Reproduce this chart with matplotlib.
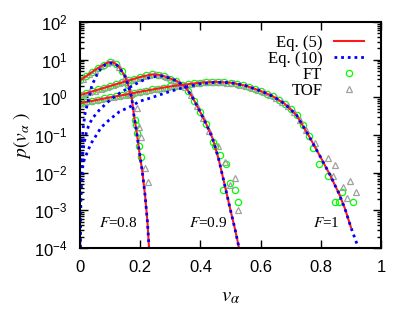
import numpy as np
import matplotlib
matplotlib.use("Agg")
import matplotlib.pyplot as plt

plt.rcParams['font.family'] = ['Liberation Sans', 'DejaVu Sans']
plt.rcParams['mathtext.fontset'] = 'stix'

# ---- data (v, log10 p) ----
# Eq. (5), red solid
v_eq5_08 = [0.0, 0.02, 0.04, 0.06, 0.08, 0.095, 0.11, 0.123, 0.133, 0.15, 0.16, 0.172, 0.179, 0.188, 0.197, 0.207, 0.216, 0.224, 0.229]
lp_eq5_08 = [0.45, 0.56, 0.67, 0.78, 0.87, 0.93, 0.93, 0.86, 0.77, 0.55, 0.33, -0.02, -0.47, -0.91, -1.44, -1.97, -2.59, -3.30, -3.95]
v_eq5_09 = [0.0, 0.05, 0.1, 0.15, 0.2, 0.24, 0.26, 0.28, 0.32, 0.35, 0.37, 0.39, 0.40, 0.42, 0.44, 0.46, 0.48, 0.50, 0.515, 0.527]
lp_eq5_09 = [0.06, 0.18, 0.30, 0.42, 0.54, 0.61, 0.60, 0.56, 0.44, 0.28, 0.05, -0.24, -0.40, -0.72, -1.08, -1.62, -2.30, -3.00, -3.50, -3.95]
v_eq5_10 = [0.0, 0.05, 0.1, 0.15, 0.2, 0.25, 0.3, 0.35, 0.4, 0.45, 0.5, 0.55, 0.6, 0.64, 0.68, 0.72, 0.76, 0.8, 0.83, 0.86, 0.88, 0.9]
lp_eq5_10 = [-0.15, -0.08, 0.0, 0.07, 0.15, 0.22, 0.29, 0.34, 0.39, 0.41, 0.39, 0.31, 0.17, 0.03, -0.17, -0.48, -1.02, -1.60, -2.05, -2.55, -2.95, -3.45]

# Eq. (10), blue dotted
v_eq10_08 = [0.0002, 0.001, 0.003, 0.006, 0.011, 0.017, 0.028, 0.039, 0.05, 0.061, 0.075, 0.089, 0.1, 0.112, 0.123, 0.133, 0.15, 0.16, 0.172, 0.179, 0.188, 0.197, 0.207, 0.216, 0.224, 0.229]
lp_eq10_08 = [-4.0, -2.9, -1.9, -1.25, -0.78, -0.42, -0.07, 0.30, 0.50, 0.68, 0.82, 0.89, 0.91, 0.90, 0.85, 0.76, 0.55, 0.33, -0.02, -0.47, -0.91, -1.44, -1.97, -2.59, -3.30, -3.95]
v_eq10_09 = [0.0003, 0.001, 0.003, 0.007, 0.013, 0.02, 0.028, 0.04, 0.066, 0.1, 0.133, 0.166, 0.2, 0.23, 0.26, 0.28, 0.32, 0.35, 0.37, 0.39, 0.40, 0.42, 0.44, 0.46, 0.48, 0.50, 0.515, 0.527]
lp_eq10_09 = [-4.0, -3.2, -2.3, -1.65, -1.25, -0.97, -0.77, -0.57, -0.32, -0.07, 0.12, 0.27, 0.42, 0.52, 0.57, 0.56, 0.44, 0.28, 0.05, -0.24, -0.40, -0.72, -1.08, -1.62, -2.30, -3.00, -3.50, -3.95]
v_eq10_10 = [0.0005, 0.002, 0.005, 0.009, 0.014, 0.026, 0.037, 0.053, 0.07, 0.097, 0.131, 0.166, 0.2, 0.233, 0.27, 0.3, 0.35, 0.4, 0.45, 0.5, 0.55, 0.6, 0.64, 0.68, 0.72, 0.76, 0.8, 0.83, 0.86, 0.88, 0.9, 0.925]
lp_eq10_10 = [-4.0, -3.1, -2.3, -1.85, -1.66, -1.42, -1.22, -1.02, -0.80, -0.60, -0.38, -0.25, -0.10, -0.02, 0.08, 0.16, 0.27, 0.36, 0.40, 0.39, 0.31, 0.17, 0.03, -0.17, -0.48, -1.02, -1.60, -2.05, -2.55, -2.95, -3.45, -4.0]

# FT, green circles
v_ft_08 = [0.0, 0.02, 0.04, 0.06, 0.08, 0.10, 0.12, 0.14, 0.16, 0.17, 0.183, 0.186, 0.19, 0.196, 0.203]
lp_ft_08 = [0.45, 0.56, 0.67, 0.78, 0.87, 0.93, 0.88, 0.69, 0.33, 0.05, -0.60, -0.73, -0.95, -1.29, -1.58]
v_ft_09 = [0.0, 0.02, 0.04, 0.06, 0.08, 0.10, 0.12, 0.14, 0.16, 0.18, 0.20, 0.22, 0.24, 0.26, 0.28, 0.30, 0.32, 0.34, 0.36, 0.38, 0.40, 0.42,
           0.442, 0.448, 0.465, 0.484, 0.498, 0.476, 0.515, 0.526]
lp_ft_09 = [0.06, 0.11, 0.16, 0.21, 0.26, 0.30, 0.35, 0.40, 0.45, 0.50, 0.54, 0.58, 0.61, 0.60, 0.56, 0.50, 0.44, 0.34, 0.17, -0.09, -0.40, -0.72,
            -1.18, -1.30, -1.52, -1.77, -2.27, -2.47, -2.47, -2.78]
v_ft_10 = [0.0, 0.02, 0.04, 0.06, 0.08, 0.10, 0.12, 0.14, 0.16, 0.18, 0.20, 0.22, 0.24, 0.26, 0.28, 0.30, 0.32, 0.34, 0.36, 0.38,
           0.40, 0.42, 0.44, 0.46, 0.48, 0.50, 0.52, 0.54, 0.56, 0.58, 0.60, 0.62, 0.64, 0.66, 0.68, 0.70, 0.72, 0.74, 0.76,
           0.775, 0.795, 0.825, 0.869, 0.847, 0.861, 0.906]
lp_ft_10 = [-0.15, -0.12, -0.09, -0.06, -0.03, 0.0, 0.03, 0.06, 0.09, 0.12, 0.15, 0.18, 0.21, 0.23, 0.26, 0.29, 0.31, 0.33, 0.35, 0.37,
            0.39, 0.40, 0.41, 0.41, 0.40, 0.39, 0.36, 0.33, 0.28, 0.23, 0.17, 0.10, 0.03, -0.07, -0.17, -0.32, -0.48, -0.73, -1.02,
            -1.35, -1.77, -2.10, -2.50, -2.79, -2.79, -2.79]

# TOF, grey triangles
v_tof_08 = [0.01, 0.03, 0.05, 0.07, 0.09, 0.11, 0.13, 0.15, 0.165, 0.188, 0.197, 0.203, 0.216, 0.225]
lp_tof_08 = [0.50, 0.62, 0.73, 0.83, 0.91, 0.93, 0.80, 0.55, 0.18, -0.29, -0.78, -1.04, -1.88, -2.24]
v_tof_09 = [0.01, 0.03, 0.05, 0.07, 0.09, 0.11, 0.13, 0.15, 0.17, 0.19, 0.21, 0.23, 0.25, 0.27, 0.29, 0.31, 0.33, 0.35, 0.37, 0.39, 0.41, 0.43,
            0.46, 0.482, 0.515, 0.498, 0.524]
lp_tof_09 = [0.08, 0.13, 0.18, 0.23, 0.28, 0.33, 0.37, 0.42, 0.47, 0.52, 0.56, 0.60, 0.61, 0.58, 0.53, 0.47, 0.39, 0.28, 0.05, -0.24, -0.56, -0.90,
             -1.29, -1.73, -2.15, -2.32, -2.99]
v_tof_10 = [0.01, 0.03, 0.05, 0.07, 0.09, 0.11, 0.13, 0.15, 0.17, 0.19, 0.21, 0.23, 0.25, 0.27, 0.29, 0.31, 0.33, 0.35, 0.37, 0.39,
            0.41, 0.43, 0.45, 0.47, 0.49, 0.51, 0.53, 0.55, 0.57, 0.59, 0.61, 0.63, 0.65, 0.67, 0.69, 0.71, 0.73, 0.75,
            0.78, 0.825, 0.847, 0.842, 0.897, 0.875, 0.886, 0.917]
lp_tof_10 = [-0.14, -0.11, -0.08, -0.05, -0.02, 0.01, 0.04, 0.07, 0.10, 0.13, 0.16, 0.19, 0.22, 0.25, 0.28, 0.30, 0.32, 0.34, 0.36, 0.38,
             0.40, 0.41, 0.41, 0.40, 0.39, 0.38, 0.34, 0.31, 0.26, 0.20, 0.14, 0.07, -0.02, -0.12, -0.24, -0.40, -0.60, -0.87,
             -1.22, -1.62, -1.79, -2.10, -2.21, -2.38, -2.68, -2.52]

F_labels = ['0.8', '0.9', '1']
F_label_pos = [(0.126, -3.33), (0.426, -3.33), (0.818, -3.33)]

fig = plt.figure(figsize=(4.09, 3.2), dpi=100)
ax = fig.add_axes([80/409, 1-248/320, 301/409, 226/320])

p = lambda a: 10**np.array(a)

# markers first, lines on top
for i, (v, lp) in enumerate([(v_ft_08, lp_ft_08), (v_ft_09, lp_ft_09), (v_ft_10, lp_ft_10)]):
    ax.plot(v, p(lp), 'o', ms=4.5, mfc='none', mec='#00ff00', mew=0.9, label='FT' if i == 0 else None)
for i, (v, lp) in enumerate([(v_tof_08, lp_tof_08), (v_tof_09, lp_tof_09), (v_tof_10, lp_tof_10)]):
    ax.plot(v, p(lp), '^', ms=4.5, mfc='none', mec='#a0a0a0', mew=0.9, label='TOF' if i == 0 else None)
for i, (v, lp) in enumerate([(v_eq5_08, lp_eq5_08), (v_eq5_09, lp_eq5_09), (v_eq5_10, lp_eq5_10)]):
    ax.plot(v, p(lp), '-', color='#ff1a1a', lw=1.5, label='Eq. (5)' if i == 0 else None)
for i, (v, lp) in enumerate([(v_eq10_08, lp_eq10_08), (v_eq10_09, lp_eq10_09), (v_eq10_10, lp_eq10_10)]):
    ax.plot(v, p(lp), color='#0000ff', lw=2, ls=(0, (1, 1.4)), dash_capstyle='butt', label='Eq. (10)' if i == 0 else None)

ax.set_yscale('log')
ax.set_xlim(0, 1)
ax.set_ylim(1e-4, 1e2)
ax.set_xticks([0, 0.2, 0.4, 0.6, 0.8, 1])
ax.set_xticklabels(['0', '0.2', '0.4', '0.6', '0.8', '1'])
ax.set_yticks([10.0**k for k in range(-4, 3)])
ax.yaxis.set_minor_locator(matplotlib.ticker.LogLocator(base=10, subs=np.arange(2, 10)))
ax.yaxis.set_minor_formatter(matplotlib.ticker.NullFormatter())
ax.tick_params(which='major', direction='in', length=6, width=1, top=True, right=True, labelsize=12, pad=9)
ax.tick_params(which='minor', direction='in', length=3, width=1, top=True, right=True)
for s in ax.spines.values():
    s.set_linewidth(1.5)

ax.set_xlabel(r'$v_{\alpha}$', fontsize=15, labelpad=8)
ax.set_ylabel(r'$p(v_{\alpha}\ )$', fontsize=14, labelpad=1)

for lab, (x, y) in zip(F_labels, F_label_pos):
    ax.text(x, 10**y, r'$F$=' + lab, fontsize=11, family='Liberation Serif', ha='center', va='center')

h, l = ax.get_legend_handles_labels()
order = [l.index('Eq. (5)'), l.index('Eq. (10)'), l.index('FT'), l.index('TOF')]
leg = ax.legend([h[k] for k in order], [l[k] for k in order], loc='upper right',
                bbox_to_anchor=(364/409, 1-35/320), bbox_transform=fig.transFigure,
                frameon=False, markerfirst=False, borderpad=0, borderaxespad=0,
                handlelength=1.8, handletextpad=0.7, labelspacing=0.0,
                prop={'family': 'Liberation Serif', 'size': 12})

fig.savefig('out.png', dpi=100)
